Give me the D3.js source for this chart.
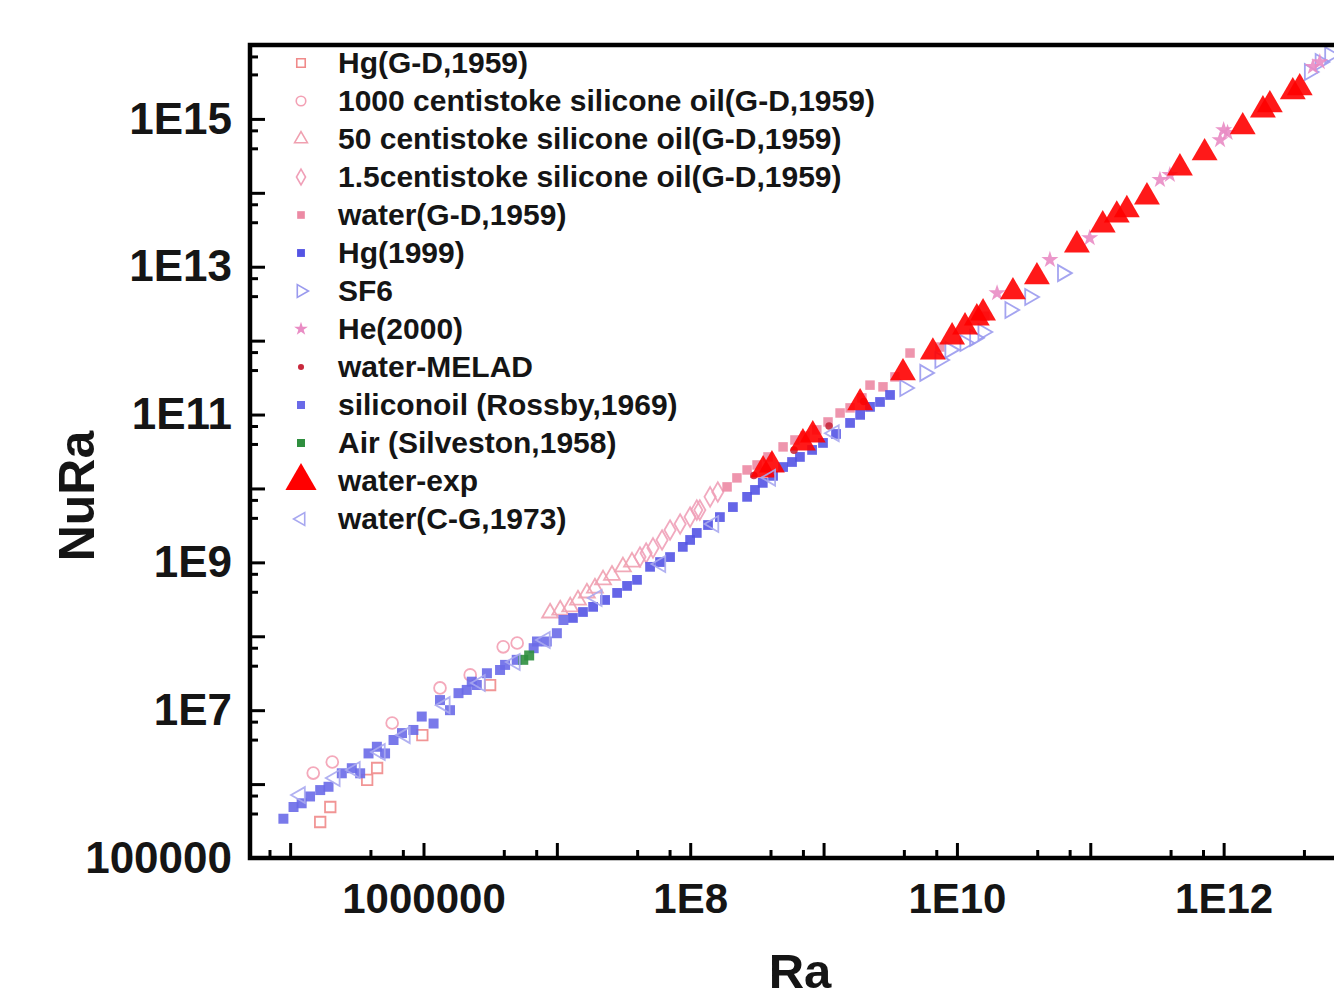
<!DOCTYPE html>
<html><head><meta charset="utf-8">
<script src="https://cdn.jsdelivr.net/npm/d3@7"></script>
<style>
body{margin:0;background:#fff}
svg{display:block}
text{font-family:"Liberation Sans",Arial,sans-serif;font-weight:bold;fill:#151515}
</style>
</head><body>
<svg id="chart" width="1334" height="1000"></svg>
<script>
// ---------- axis ticks ----------
const xTickValues = [1e6, 1e8, 1e10, 1e12];
const xTickLabels = ["1000000", "1E8", "1E10", "1E12"];
const yTickValues = [1e5, 1e7, 1e9, 1e11, 1e13, 1e15];
const yTickLabels = ["100000", "1E7", "1E9", "1E11", "1E13", "1E15"];

// ---------- series names ----------
const seriesNames = [
  "Hg(G-D,1959)",
  "1000 centistoke silicone oil(G-D,1959)",
  "50 centistoke silicone oil(G-D,1959)",
  "1.5centistoke silicone oil(G-D,1959)",
  "water(G-D,1959)",
  "Hg(1999)",
  "SF6",
  "He(2000)",
  "water-MELAD",
  "siliconoil (Rossby,1969)",
  "Air (Silveston,1958)",
  "water-exp",
  "water(C-G,1973)"
];

// ---------- data: [Ra, Nu*Ra] ----------
const hgGD = [[1.68e5,3.07e5],[2.0e5,4.9e5],[3.78e5,1.14e6],[4.49e5,1.65e6],[9.8e5,4.6e6],[3.16e6,2.19e7]];
const oil1000 = [[1.49e5,1.41e6],[2.07e5,1.99e6],[5.82e5,6.7e6],[1.33e6,2.0e7],[2.24e6,3.0e7],[3.96e6,7.2e7],[5.04e6,8.1e7]];
const oil50 = [[8.9e6,2.07e8],[1.06e7,2.27e8],[1.26e7,2.5e8],[1.44e7,3.1e8],[1.68e7,3.86e8],[1.93e7,4.5e8],[2.22e7,5.8e8],[2.59e7,6.7e8],[3.13e7,8.7e8],[3.66e7,1.01e9]];
const oil15 = [[4.2e7,1.18e9],[4.67e7,1.34e9],[5.26e7,1.57e9],[6.15e7,2.01e9],[7.06e7,2.74e9],[8.4e7,3.31e9],[9.98e7,4.1e9],[1.12e8,5.1e9],[1.18e8,5.1e9],[1.41e8,7.7e9],[1.61e8,8.97e9]];
const waterGD = [[1.89e8,1.05e10],[2.24e8,1.39e10],[2.67e8,1.78e10],[3.17e8,2.08e10],[3.83e8,2.67e10],[4.97e8,3.65e10],[6.1e8,4.53e10],[7.26e8,5.13e10],[8.9e8,6.2e10],[1.08e9,7.94e10],[1.33e9,1.05e11],[1.58e9,1.23e11],[1.94e9,1.68e11],[2.23e9,2.5e11],[2.79e9,2.37e11],[3.43e9,3.23e11],[4.45e9,6.8e11],[7.46e9,8.2e11],[1.62e10,2.14e12]];
const hg1999 = [[1.32e7,1.77e8],[1.57e7,2.13e8],[1.87e7,2.5e8],[2.3e7,3.1e8],[2.83e7,3.86e8],[3.36e7,4.8e8],[3.99e7,5.8e8],[5.0e7,8.7e8],[5.94e7,1.01e9],[7.06e7,1.18e9],[8.8e7,1.62e9],[9.98e7,2.01e9],[1.12e8,2.5e9],[1.36e8,3.2e9],[1.67e8,4.1e9],[2.09e8,5.6e9],[2.67e8,7.7e9],[3.06e8,9.55e9],[3.5e8,1.19e10],[4.18e8,1.48e10],[4.97e8,1.95e10],[5.8e8,2.28e10],[6.65e8,2.67e10],[8.2e8,3.32e10],[9.9e8,4.13e10],[1.24e9,5.46e10],[1.58e9,7.7e10],[1.88e9,9.9e10],[2.23e9,1.27e11],[2.65e9,1.48e11],[3.15e9,1.84e11]];
const sf6 = [[4.07e9,2.29e11],[5.75e9,3.66e11],[7.46e9,5.48e11],[8.87e9,7.5e11],[1.15e10,9.3e11],[1.36e10,1.09e12],[1.57e10,1.31e12],[2.5e10,2.6e12],[3.52e10,3.9e12],[6.2e10,8.2e12],[4.4e12,4.3e15],[5.3e12,5.9e15],[6.25e12,7.3e15]];
const he2000 = [[2.0e10,4.4e12],[4.98e10,1.24e13],[9.9e10,2.45e13],[3.33e11,1.5e14],[3.95e11,1.75e14],[9.4e11,5.2e14],[1.0e12,7.1e14],[1.07e12,6.5e14],[4.67e12,5.06e15],[5.26e12,5.9e15]];
const waterMELAD = [[3.0e8,1.5e10],[6.0e8,3.3e10],[1.1e9,7.0e10],[2.0e9,1.5e11]];
const oilRossby = [[8.9e4,3.4e5],[1.06e5,4.9e5],[1.22e5,5.5e5],[1.41e5,6.8e5],[1.68e5,8.3e5],[1.94e5,9.2e5],[2.44e5,1.4e6],[2.9e5,1.64e6],[3.35e5,1.4e6],[3.87e5,2.6e6],[4.47e5,3.2e6],[5.15e5,2.6e6],[5.96e5,3.95e6],[6.9e5,4.9e6],[8.4e5,5.4e6],[9.7e5,8.2e6],[1.19e6,6.6e6],[1.33e6,1.37e7],[1.58e6,1.0e7],[1.83e6,1.7e7],[2.11e6,1.88e7],[2.3e6,2.43e7],[2.51e6,2.19e7],[2.99e6,3.16e7],[3.75e6,3.5e7],[4.09e6,4.1e7],[5.0e6,4.8e7],[6.7e6,6.9e7],[7.1e6,8.5e7],[8.4e6,8.5e7],[1.0e7,1.1e8],[1.12e7,1.66e8]];
const airSilveston = [[5.6e6,4.8e7],[6.2e6,5.5e7]];
const waterExp = [[3.52e8,1.78e10],[4.1e8,2.08e10],[7.0e8,4.13e10],[8.3e8,5.3e10],[1.88e9,1.44e11],[3.94e9,3.66e11],[6.6e9,7.0e11],[9.2e9,1.12e12],[1.15e10,1.53e12],[1.41e10,2.03e12],[1.57e10,2.37e12],[2.63e10,4.57e12],[3.98e10,7.3e12],[7.94e10,1.97e13],[1.24e11,3.68e13],[1.58e11,5.0e13],[1.88e11,5.9e13],[2.66e11,8.8e13],[4.7e11,2.17e14],[7.2e11,3.47e14],[1.39e12,7.8e14],[1.97e12,1.32e15],[2.22e12,1.55e15],[3.3e12,2.32e15],[3.72e12,2.63e15]];
const waterCG = [[1.19e5,7.1e5],[2.17e5,1.21e6],[3.07e5,1.55e6],[4.73e5,2.72e6],[7.28e5,4.6e6],[1.45e6,1.17e7],[2.66e6,2.33e7],[4.86e6,4.49e7],[8.17e6,8.9e7],[2.0e7,3.3e8],[6.0e7,9.5e8],[1.5e8,3.3e9],[4.0e8,1.4e10],[1.2e9,5.6e10]];

const seriesData = [hgGD, oil1000, oil50, oil15, waterGD, hg1999, sf6, he2000, waterMELAD, oilRossby, airSilveston, waterExp, waterCG];

// ---------- styles ----------
const styles = [
  {shape:"square", open:true,  color:"#f08a8a", size:110},
  {shape:"circle", open:true,  color:"#f3a0b4", size:110},
  {shape:"triangle", open:true, color:"#f0a0b0", size:110},
  {shape:"diamond", open:true, color:"#f0a0b8", size:110},
  {shape:"square", open:false, color:"#ec8aa4", size:90},
  {shape:"square", open:false, color:"#5454e4", size:95},
  {shape:"triR", open:true,   color:"#9a9aee", size:110},
  {shape:"star", open:false,  color:"#e98cc4", size:90},
  {shape:"circle", open:false, color:"#c8283c", size:45},
  {shape:"square", open:false, color:"#6a6ae8", size:100},
  {shape:"square", open:false, color:"#2f8f3f", size:100},
  {shape:"triangle", open:false, color:"#ff0000", size:290},
  {shape:"triL", open:true,   color:"#a8a8f0", size:110}
];

const svg = d3.select("#chart");
const pLeft = 250, pTop = 45, pBottom = 858, pRight = 1357;
const x = d3.scaleLog().domain([5e4, 1e13]).range([pLeft, pRight]);
const y = d3.scaleLog().domain([1e5, 1e16]).range([pBottom, pTop]);

function symPath(st, scale) {
  const s = st.size * (scale || 1);
  let t = d3.symbolSquare;
  if (st.shape === "circle") t = d3.symbolCircle;
  else if (st.shape === "triangle" || st.shape === "triR" || st.shape === "triL") t = d3.symbolTriangle;
  else if (st.shape === "diamond") t = d3.symbolDiamond;
  else if (st.shape === "star") t = d3.symbolStar;
  return d3.symbol().type(t).size(s)();
}
function rot(st) { return st.shape === "triR" ? 90 : st.shape === "triL" ? -90 : 0; }

// clip
svg.append("clipPath").attr("id","clip").append("rect")
  .attr("x", pLeft).attr("y", pTop).attr("width", pRight-pLeft).attr("height", pBottom-pTop);

// data
const gData = svg.append("g").attr("clip-path","url(#clip)");
seriesData.forEach((data, i) => {
  const st = styles[i];
  gData.append("g").selectAll("path").data(data).join("path")
    .attr("d", symPath(st))
    .attr("transform", d => `translate(${x(d[0])},${y(d[1])}) rotate(${rot(st)})`)
    .attr("fill", st.open ? "none" : st.color)
    .attr("stroke", st.open ? st.color : "none")
    .attr("stroke-width", st.open ? 1.8 : 0)
    .attr("opacity", st.open ? 0.9 : 0.9);
});

// ticks
const xMajor = [], xMinor = [], yMajor = [], yMinor = [];
for (let e = 4; e <= 13; e++) {
  const v = Math.pow(10, e);
  if (v >= 5e4 && v <= 1e13) xMajor.push(v);
  [4, 7].forEach(m => { const w = m * v; if (w >= 5e4 && w <= 1e13) xMinor.push(w); });
}
for (let e = 5; e <= 16; e++) {
  const v = Math.pow(10, e);
  yMajor.push(v);
  [4, 7].forEach(m => { const w = m * v; if (w <= 1e16) yMinor.push(w); });
}
const xFmt = d => { const k = xTickValues.findIndex(v => Math.abs(Math.log10(v) - Math.log10(d)) < 1e-6); return k >= 0 ? xTickLabels[k] : ""; };
const yFmt = d => { const k = yTickValues.findIndex(v => Math.abs(Math.log10(v) - Math.log10(d)) < 1e-6); return k >= 0 ? yTickLabels[k] : ""; };

const gx = svg.append("g").attr("transform", `translate(0,${pBottom})`)
  .call(d3.axisBottom(x).tickValues(xMajor).tickSize(-15).tickPadding(25).tickFormat(xFmt));
const gx2 = svg.append("g").attr("transform", `translate(0,${pBottom})`)
  .call(d3.axisBottom(x).tickValues(xMinor).tickSize(-8).tickFormat(() => ""));
const gy = svg.append("g").attr("transform", `translate(${pLeft},0)`)
  .call(d3.axisLeft(y).tickValues(yMajor).tickSize(-15).tickPadding(18).tickFormat(yFmt));
const gy2 = svg.append("g").attr("transform", `translate(${pLeft},0)`)
  .call(d3.axisLeft(y).tickValues(yMinor).tickSize(-8).tickFormat(() => ""));
[gx, gx2, gy, gy2].forEach(g => {
  g.select(".domain").remove();
  g.selectAll(".tick line").attr("stroke", "#000").attr("stroke-width", 3);
});
gx.selectAll("text").attr("font-size", 42).attr("fill", "#151515")
  .attr("font-family", '"Liberation Sans",Arial,sans-serif').attr("font-weight", "bold");
gy.selectAll("text").attr("font-size", 44).attr("fill", "#151515")
  .attr("font-family", '"Liberation Sans",Arial,sans-serif').attr("font-weight", "bold");

// frame
svg.append("rect").attr("x", pLeft).attr("y", pTop).attr("width", pRight-pLeft).attr("height", pBottom-pTop)
  .attr("fill", "none").attr("stroke", "#000").attr("stroke-width", 4.5);

// axis titles
svg.append("text").attr("x", 800).attr("y", 988).attr("text-anchor", "middle")
  .attr("font-size", 49).text("Ra");
svg.append("text").attr("transform", "translate(94,496) rotate(-90)").attr("text-anchor", "middle")
  .attr("font-size", 50).text("NuRa");

// legend
const lg = svg.append("g");
seriesNames.forEach((name, i) => {
  const st = styles[i];
  const yy = 63 + i * 38;
  const sc = i === 11 ? 1.45 : 0.65;
  lg.append("path").attr("d", symPath(st, sc))
    .attr("transform", `translate(301,${yy}) rotate(${rot(st)})`)
    .attr("fill", st.open ? "none" : st.color)
    .attr("stroke", st.open ? st.color : "none")
    .attr("stroke-width", st.open ? 1.6 : 0);
  lg.append("text").attr("x", 338).attr("y", yy + 10).attr("font-size", 30).text(name);
});
</script>
</body></html>
